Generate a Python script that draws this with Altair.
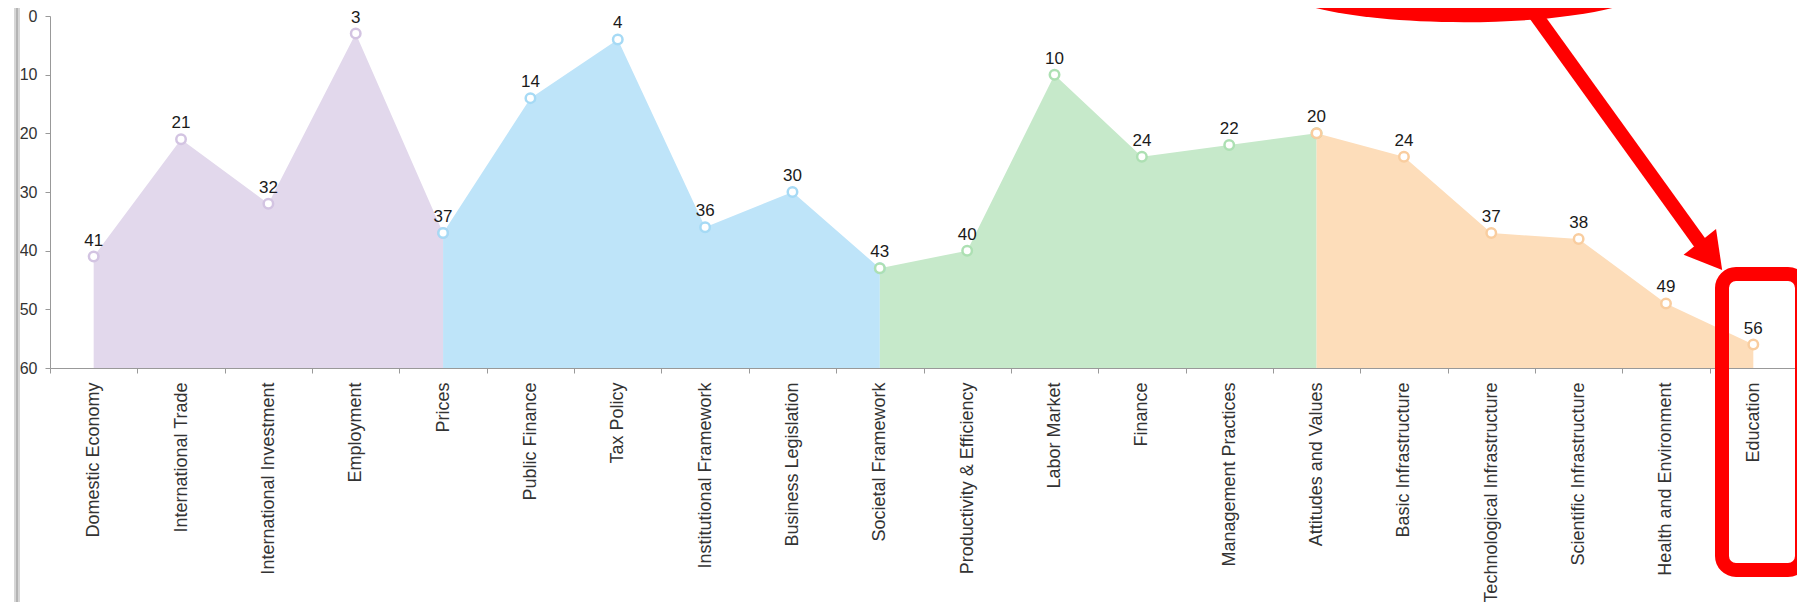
import altair as alt
import pandas as pd

# ---------------- data ----------------
categories = [
    "Domestic Economy", "International Trade", "International Investment", "Employment", "Prices",
    "Public Finance", "Tax Policy", "Institutional Framework", "Business Legislation", "Societal Framework",
    "Productivity & Efficiency", "Labor Market", "Finance", "Management Practices", "Attitudes and Values",
    "Basic Infrastructure", "Technological Infrastructure", "Scientific Infrastructure",
    "Health and Environment", "Education",
]
ranks = [41, 21, 32, 3, 37, 14, 4, 36, 30, 43, 40, 10, 24, 22, 20, 24, 37, 38, 49, 56]
factor_of = (["Economic Performance"] * 5 + ["Government Efficiency"] * 5
             + ["Business Efficiency"] * 5 + ["Infrastructure"] * 5)
factors = ["Economic Performance", "Government Efficiency", "Business Efficiency", "Infrastructure"]
y_ticks = [0, 10, 20, 30, 40, 50, 60]

# ---------------- styles ----------------
area_colors = ["#e2d8ec", "#bee4f9", "#c6e9ca", "#fdddba"]
marker_colors = ["#d3c4e2", "#a6daf5", "#ade0b3", "#f9cd9f"]
FONT = "Liberation Sans"
RED = "#ff0000"
ELLIPSE_PATH = ("M -1 0 C -1 -0.105 -0.552 -0.19 0 -0.19 C 0.552 -0.19 1 -0.105 1 0 "
                "C 1 0.105 0.552 0.19 0 0.19 C -0.552 0.19 -1 0.105 -1 0 Z")

# one row per category (labels)
base_df = pd.DataFrame({"category": categories, "rank": ranks, "factor": factor_of})

# area rows: each factor's area starts at the previous factor's last point
rows = []
for k, f in enumerate(factors):
    idx = [i for i, ff in enumerate(factor_of) if ff == f]
    if k > 0:
        idx = [idx[0] - 1] + idx
    for i in idx:
        rows.append({"category": categories[i], "rank": ranks[i], "factor": f})
area_df = pd.DataFrame(rows)

x_enc = alt.X(
    "category:N", sort=categories,
    scale=alt.Scale(type="band", paddingInner=0, paddingOuter=0),
    axis=alt.Axis(title=None, labelAngle=-90, labelAlign="right", labelBaseline="middle",
                  labelFontSize=18, labelFont=FONT, labelColor="#333333", labelPadding=9,
                  labelLimit=0, tickBand="extent", tickSize=5, tickColor="#999999",
                  domainColor="#999999", grid=False, labelOverlap=False),
)
y_enc = alt.Y(
    "rank:Q", stack=None,
    scale=alt.Scale(domain=[0, 60], reverse=True, nice=False, zero=False),
    axis=alt.Axis(title=None, values=y_ticks, labelFontSize=16, labelFont=FONT,
                  labelColor="#333333", labelPadding=8, tickSize=5, tickColor="#999999",
                  domainColor="#999999", grid=False),
)

area = alt.Chart(area_df).mark_area(opacity=1, interpolate="linear").encode(
    x=x_enc, y=y_enc, y2=alt.datum(60),
    color=alt.Color("factor:N", scale=alt.Scale(domain=factors, range=area_colors), legend=None),
)

points = alt.Chart(area_df).mark_point(filled=True, fill="white", size=90, strokeWidth=2.5, opacity=1).encode(
    x=x_enc, y=y_enc,
    stroke=alt.Stroke("factor:N", scale=alt.Scale(domain=factors, range=marker_colors), legend=None),
)

labels = alt.Chart(base_df).mark_text(dy=-11, fontSize=17, font=FONT, color="#1a1a1a",
                                      baseline="alphabetic").encode(
    x=x_enc, y=y_enc, text="rank:Q",
)

one = pd.DataFrame({"a": [0]})

# window edge at the left
edge = alt.Chart(one).mark_rule(color="#d6d6d6", strokeWidth=6).encode(
    x=alt.value(-33), y=alt.value(-20), y2=alt.value(620))
edge2 = alt.Chart(one).mark_rule(color="#a9a9a9", strokeWidth=1.5).encode(
    x=alt.value(-33), y=alt.value(-20), y2=alt.value(620))

# red annotations
ellipse = alt.Chart(one).mark_point(
    shape=ELLIPSE_PATH, filled=True, color=RED, size=136900, opacity=1, strokeWidth=0,
).encode(x=alt.value(1414), y=alt.value(-29))

shaft = alt.Chart(one).mark_rule(color=RED, strokeWidth=14).encode(
    x=alt.value(1482), y=alt.value(-6), x2=alt.value(1650), y2=alt.value(227))

head = alt.Chart(one).mark_point(shape="triangle-up", filled=True, color=RED, size=1714,
                                 angle=141.5, opacity=1, strokeWidth=0).encode(
    x=alt.value(1661), y=alt.value(240))

box = alt.Chart(one).mark_rect(filled=False, stroke=RED, strokeWidth=14, cornerRadius=14,
                               fill="transparent").encode(
    x=alt.value(1672), x2=alt.value(1752), y=alt.value(258), y2=alt.value(554))

chart = alt.layer(area, points, labels, edge, edge2, ellipse, shaft, head, box).properties(
    width=1747, height=352,
    padding={"left": 42, "top": 8, "right": 0, "bottom": 234},
    autosize=alt.AutoSizeParams(type="none"),
    background="white",
).configure_view(stroke=None)

chart.save("out.html", embed_options={"renderer": "svg", "actions": False})
